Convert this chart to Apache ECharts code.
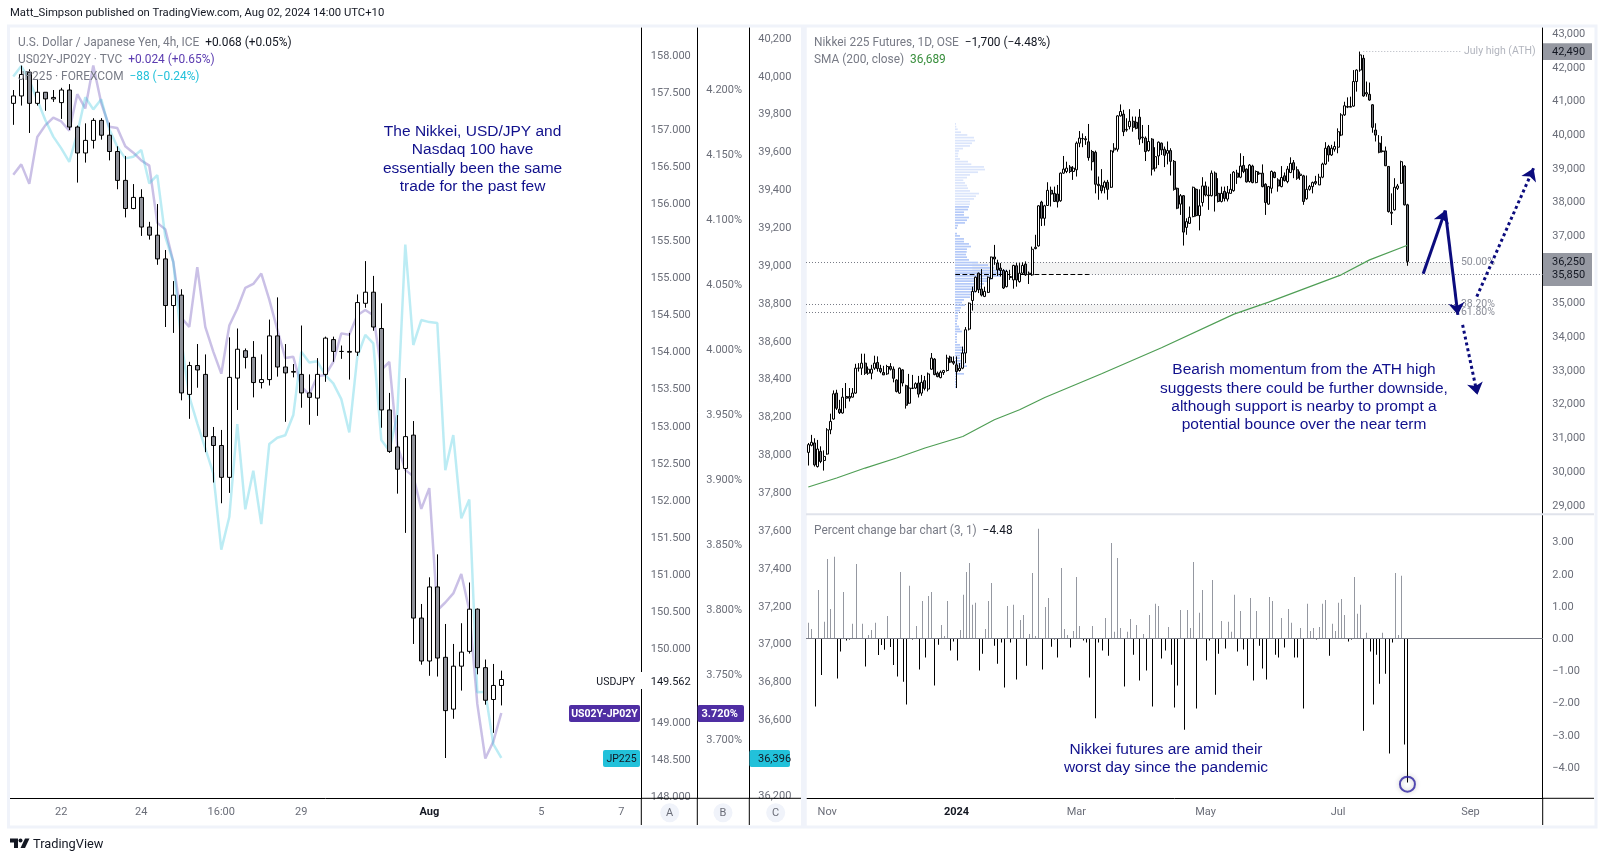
<!DOCTYPE html>
<html>
<head>
<meta charset="utf-8">
<title>USD/JPY and Nikkei 225</title>
<script src="https://cdn.jsdelivr.net/npm/echarts@6/dist/echarts.min.js"></script>
<style>
html,body{margin:0;padding:0;background:#fff;}
#chart{width:1604px;height:861px;}
</style>
</head>
<body>
<div id="chart"></div>
<script>
// USD/JPY 4h candles
var usdOpen=[157.34,157.44,157.76,157.34,157.49,157.40,157.35,157.52,157.02,156.67,
156.84,157.11,156.91,156.69,156.30,155.92,156.07,155.67,155.56,155.24,
154.61,154.75,153.41,153.80,153.68,152.84,152.72,152.29,153.63,154.00,
153.91,153.57,153.61,154.20,153.78,153.71,153.68,153.43,153.36,153.68,
154.15,153.99,153.99,153.98,154.64,154.79,154.30,153.20,152.70,152.41,
152.86,150.39,149.81,150.81,149.86,149.16,149.74,149.94,150.51,149.72,
149.29,149.48];
var usdClose=[157.44,157.73,157.34,157.49,157.40,157.42,157.52,157.02,156.67,156.84,
157.11,156.91,156.69,156.30,155.92,156.07,155.67,155.56,155.24,154.61,
154.75,153.43,153.80,153.74,152.84,152.72,152.29,153.64,154.02,153.91,
153.57,153.61,154.20,153.78,153.70,153.72,153.43,153.37,153.68,154.17,
153.99,153.99,153.98,154.65,154.79,154.32,153.20,152.64,152.40,152.84,
150.39,149.81,150.81,149.85,149.14,149.74,149.93,150.51,149.72,149.28,
149.48,149.56];
var usdLow=[157.05,157.31,156.94,157.31,157.24,157.36,157.13,156.98,156.27,156.54,
156.73,156.85,156.57,156.18,155.80,155.91,155.55,155.50,155.16,154.32,
154.24,153.33,153.08,153.50,152.63,152.22,151.94,152.08,153.20,153.76,
153.37,153.49,153.53,153.65,153.04,153.64,153.23,153.00,153.12,153.58,
153.85,153.89,153.61,153.93,154.58,154.27,152.96,152.62,152.07,151.54,
150.04,149.76,149.61,149.60,148.50,149.03,149.41,149.91,149.63,149.22,
148.84,149.21];
var usdHigh=[157.52,157.85,157.80,157.67,157.49,157.52,157.55,157.60,157.04,157.07,
157.14,157.14,157.08,156.76,156.63,156.25,156.18,155.74,155.98,155.36,
154.94,154.83,153.85,154.09,153.95,152.97,152.93,154.18,154.30,154.03,
154.13,153.95,154.42,154.72,154.09,153.82,154.34,153.68,153.90,154.19,
154.19,154.07,154.24,154.76,155.21,155.01,154.64,153.43,153.13,153.63,
153.05,150.58,150.94,151.25,150.31,150.04,150.32,150.87,150.52,149.83,
149.77,149.68];
// overlays on the USD/JPY pane
var spreadValues=[4.134,4.142,4.127,4.163,4.172,4.178,4.175,4.168,4.196,4.185,
4.218,4.189,4.171,4.170,4.156,4.151,4.145,4.141,4.097,4.092,
4.067,4.024,4.017,4.063,4.017,3.998,3.981,4.018,4.031,4.047,
4.050,4.058,4.038,4.015,3.993,3.994,3.971,3.965,3.979,3.980,
3.990,4.012,4.011,4.026,4.030,4.026,3.984,3.990,3.926,3.907,
3.902,3.877,3.893,3.799,3.805,3.812,3.827,3.799,3.727,3.685,
3.698,3.720];
var jp225Values=[39996,40052,39978,39872,39767,39679,39617,39546,39696,39887,
39823,39876,39718,39626,39564,39573,39608,39432,39476,39150,
39016,38604,38305,38164,38032,37900,37497,37669,38160,37710,
37914,37632,38055,38088,38101,38208,38542,38486,38492,38419,
38375,38292,38116,38516,38631,38587,38076,38019,38208,39109,
38578,38710,38699,38694,37917,38102,37662,37762,36743,36746,
36469,36396];
// tick labels, USD/JPY pane
var usdXIdx=[6,16,26,36,52,66,76];
var usdXText=['22','24','16:00','29','{b|Aug}','5','7'];
var usdTicks=[148,148.5,149,150,150.5,151,151.5,152,152.5,153,153.5,154,154.5,155,155.5,156,156.5,157,157.5,158];
var spreadTicks=[3.7,3.75,3.8,3.85,3.9,3.95,4,4.05,4.1,4.15,4.2];
var jp225Ticks=[36200,36600,36800,37000,37200,37400,37600,37800,38000,38200,38400,38600,38800,39000,39200,39400,39600,39800,40000,40200];

// Nikkei 225 daily candles
var nkOpen=[30540,30750,30820,30120,30570,30300,30490,31210,31530,32300,
31820,31710,32200,32200,32180,32300,33040,33040,33190,32890,
32890,33040,33210,33030,32910,32870,33090,33010,32690,32300,
32990,32520,32000,32450,32450,32600,32300,32670,32420,33010,
33310,32890,32760,32910,32970,33370,33240,33140,32970,33040,
33490,34200,35050,35320,35860,35390,35170,35290,35700,36340,
36160,36010,35940,35460,35760,35660,36080,35610,35860,36130,
35830,35810,36590,36670,37970,37490,37870,38320,38230,38210,
38010,38830,38880,39010,38880,38930,39720,39850,39850,39760,
39470,39450,38500,38460,38410,38560,38410,39520,39540,40530,
40580,40110,40210,40370,40340,40490,39880,39870,39500,39840,
38980,39340,39720,39540,39420,39500,39180,38380,37910,38160,
37220,37340,37540,38350,37570,37960,38450,38180,38160,38830,
38230,37990,38290,38060,38230,38310,38830,38710,39060,38950,
38580,39040,38550,38810,38830,38500,37910,38380,38850,38630,
38430,38750,38580,38850,39140,38930,38760,38750,38070,38350,
38430,38580,38480,38710,39100,39620,39370,39540,39600,39960,
40560,40810,40810,40820,41550,41890,42240,41180,41170,40860,
40110,39720,39470,39490,39030,37670,37740,38380,38530,39040,
37890];
var nkClose=[30770,30840,30170,30640,30270,30420,31210,31460,32280,31850,
31720,32180,32150,32150,32300,33040,33040,33190,32890,33010,
33010,33190,33030,32940,32840,33090,33010,32740,32350,33040,
32600,31940,32450,32440,32580,32270,32620,32440,32870,33340,
32850,32790,32920,32970,33340,33220,33190,32940,33040,33490,
34180,34970,35320,35740,35370,35210,35320,35740,36340,36280,
35960,35940,35420,35910,35730,36090,35660,35860,36090,35810,
35860,36570,36630,37860,37490,37860,38320,38210,37990,37980,
38830,38950,38980,38880,38980,39720,39870,39860,39820,39290,
39170,38500,38460,38310,38560,38350,39490,39570,40530,40660,
40060,40130,40370,40190,40160,39840,39900,39470,39770,38950,
39320,39750,39520,39360,39500,39180,38350,37790,38160,37080,
37390,37520,38410,37570,37860,38450,38180,38160,38830,38160,
37990,38230,38080,38250,38350,38860,38710,39040,38880,38570,
39070,38550,38880,38830,38430,37960,38430,38880,38700,38450,
38700,38610,38950,39120,38930,38680,38800,37990,38350,38430,
38550,38530,38710,39100,39570,39370,39570,39620,40060,40560,
40830,40790,40790,41550,41890,42340,41120,41220,41000,40190,
39960,39450,39490,39050,37690,37640,38410,38450,39170,37890,
36210];
var nkLow=[30150,30720,30120,30090,30220,30000,30470,31080,31510,31800,
31680,31690,31850,32050,32170,32280,32940,32840,32840,32840,
32710,32990,32940,32890,32840,32840,32970,32620,32320,32280,
32500,31840,31980,32420,32420,32170,32220,32380,32350,32990,
32830,32770,32740,32840,32940,33190,33140,32450,32940,33010,
33190,34160,34750,35290,35270,35170,35150,35270,35680,36110,
35780,35760,35390,35440,35660,35400,35460,35580,35810,35780,
35540,35780,36570,36650,37260,37270,37860,37840,37980,37810,
37980,38810,38830,38830,38630,38730,39600,39600,39670,39200,
38910,38230,38040,38230,38230,38040,38390,39440,39470,40510,
39930,40060,40130,40060,40130,39670,39720,39190,39470,38760,
38880,39070,39370,39010,39090,38760,38310,37760,37590,36680,
37000,37320,37520,37540,37130,37840,38140,37740,38140,37690,
37960,37960,37990,37990,38230,38280,38510,38680,38830,38550,
38550,38530,38530,38780,38410,37590,37890,38230,38680,38280,
38410,38580,38530,38830,38680,38630,38630,37890,38040,38310,
38230,38480,38480,38680,39070,39170,39340,39470,39420,39930,
40530,40760,40790,40800,41250,41840,41100,41100,40980,40030,
39770,39420,39440,39040,37660,37290,37720,38330,38510,37870,
36080];
var nkHigh=[30820,31060,30960,30910,30720,30600,31260,31690,32380,32400,
32100,32450,32600,32450,32450,33170,33190,33470,33470,33090,
33140,33410,33390,33140,33110,33140,33190,33090,32710,33060,
33010,32550,32870,32840,32620,32810,32840,32810,32910,33490,
33340,32940,32970,32990,33440,33410,33390,33390,33190,33680,
34260,34990,35460,35760,35880,35980,35460,35760,36350,36700,
36260,36160,35980,35960,35960,36110,36160,36160,36180,36210,
35910,36650,37000,37880,38010,37890,38560,38430,38430,38480,
38850,39340,39170,39070,39040,39770,40080,40010,39930,40290,
39520,39500,38730,38950,38610,38630,39520,39720,40550,40870,
40710,40460,40730,40510,40510,40730,40260,39920,40260,39870,
39600,39770,39740,39620,39770,39570,39220,38400,38210,38180,
37490,37840,38430,38380,38350,38710,38580,38430,38910,38880,
38680,38430,38430,38450,38810,38890,38930,39420,39340,38970,
39100,39080,38910,38880,39090,38530,38450,38910,38880,38680,
39040,38850,39040,39300,39220,39030,38880,38780,38760,38480,
38580,38750,38810,39140,39750,39670,39670,39770,40160,40610,
40950,41080,41100,41890,41910,42440,42340,41550,41520,40880,
40310,39960,39930,39620,39040,38230,38680,38510,39200,39070,
37920];
// percent change bars
var pctValues=[0.48,0.29,-2.12,1.50,-1.14,0.51,2.46,0.91,2.53,-1.25,
-0.41,1.44,-0.07,-0.04,0.45,2.31,0.00,0.45,-0.88,0.10,
0.26,0.48,-0.52,-0.21,-0.36,0.69,-0.27,-0.83,-1.19,2.06,
-1.35,-2.06,1.63,-0.04,0.38,-0.97,1.16,-0.60,1.31,1.44,
-1.47,-0.20,0.41,0.07,1.16,-0.38,-0.10,-0.69,0.26,1.35,
2.06,2.34,1.04,1.10,-1.00,-0.48,0.29,1.16,1.72,-0.23,
-0.79,-0.13,-1.53,1.00,-0.13,1.04,-1.28,0.57,0.72,-0.85,
0.13,2.03,0.07,3.40,-0.97,0.97,1.25,-0.26,-0.04,-0.60,
2.18,0.29,0.10,-0.29,0.23,1.90,0.38,-0.07,-0.13,-1.22,
0.38,-2.48,-0.13,-0.38,0.63,-0.54,2.96,0.20,2.49,0.32,
-1.50,0.20,0.60,-0.51,0.41,-1.31,0.13,-1.00,0.72,-2.12,
1.07,1.00,-0.63,-0.38,0.35,-0.82,-2.15,-1.47,0.88,-2.84,
0.88,0.32,2.37,-2.18,0.79,1.50,-0.69,-0.07,1.81,-1.75,
-0.48,0.54,-0.32,0.51,0.20,1.35,-0.41,0.85,-0.35,-0.85,
1.25,-1.31,0.85,-0.23,-0.94,-1.28,1.28,1.16,-0.51,-0.60,
0.63,-0.29,0.91,0.48,-0.60,-0.60,0.32,-2.18,1.07,0.23,
0.32,-0.04,0.35,1.07,1.19,-0.54,0.45,0.23,1.10,1.22,
0.72,-0.10,-0.04,1.90,0.76,1.04,-2.87,0.17,-0.41,-2.06,
-0.51,-1.41,0.17,-1.10,-3.58,-0.13,2.03,0.10,1.94,-3.30,
-4.48];
// SMA 200, knots
var smaIdx=[0,9,18,28,37,49,59,67,75,93,112,135,146,169,178,190];
var smaValues=[29512,29779,30075,30372,30669,31013,31509,31805,32170,32873,33645,34645,35000,35811,36256,36689];
// volume profile rows
var profilePrices=[40291,40212,40133,40044,39964,39885,39796,39717,39638,39559,
39490,39411,39331,39252,39173,39094,39015,38936,38857,38778,
38698,38619,38540,38461,38382,38303,38224,38145,38065,37986,
37907,37828,37749,37670,37591,37512,37432,37353,37274,37195,
37037,36967,36878,36799,36730,36651,36572,36493,36414,36335,
36255,36176,36097,36018,35939,35860,35781,35701,35622,35543,
35464,35385,35306,35227,35148,35068,34989,34910,34831,34752,
34673,34594,34515,34435,34356,34277,34198,34129,34050,33970,
33891,33812,33733,33654,33575,33496,33417,33338,33258,33179,
33100,33021,32942,32873,32793,32714,32635,32556,32477];
var profileVolumes=[1,1.3,2.7,6,12.3,19,20,17,15,8,
4,3.3,3,5,13,16.3,29,30,23,15,
12,8.3,10,12,13,15,24,21,19,15,
15,14,13,9,9,14,12,10,3,2,
2,5,9,9,14,16,12,11.7,11,12,
14,23,33,39,52,49,45,38,34,29,
27,22,20,16,15,9,7,10,6,5,
3,3,3,2,2,4,5,7,2,2,
2,2,5,8,9,10,5,5,8,10,
12,6,3,9,2,2,2,2,1];
var valueAreaHigh=37880;
// tick labels, Nikkei panes
var nkXIdx=[6,47,85,126,168,210];
var nkXText=['Nov','{b|2024}','Mar','May','Jul','Sep'];
var nkTicks=[29000,30000,31000,32000,33000,34000,35000,37000,38000,39000,40000,41000,42000,43000];
var pctTicks=[-4,-3,-2,-1,0,1,2,3];
// levels and hand drawn arrows
var julyHigh=42437;
var fibHalf=36186;
var swingLevel=35830;
var fib382=34930;
var fib618=34702;
var solidArrows=[[[195,35840],[202,37719]],[[202,37719],[206,34623]]];
var dottedArrows=[[[212,35167],[230,38975]],[[207.5,34327],[212.2,32249]]];
var lastPctMark=[[190,-4.53]];

var GREY='#6a6d78';
var TV_FONT='Roboto, sans-serif';
var NOTE='#10108c';
var LEGEND_SIZE=11.9;

function zip(){
	var args=arguments;
	return args[0].map(function(v,i){
		return Array.prototype.map.call(args,function(a){return a[i];});
	});
}
function withIndex(arr){
	return arr.map(function(v,i){return [i,v];});
}
function candles(o,c,l,h){
	return o.map(function(v,i){return [i,v,c[i],l[i],h[i]];});
}
function lookup(idx,text){
	return function(v){
		var p=idx.indexOf(v);
		return p==-1?'':text[p];
	};
}
// padTop nudges the label down a little from its tick, the way the reference sits
function yAxis(grid,off,min,max,ticks,fmt,margin,padTop){
	return {
		type:'value',gridIndex:grid,position:'right',offset:off,min:min,max:max,
		axisLine:{show:true,onZero:false,lineStyle:{color:'#000',width:1}},
		axisTick:{show:false},splitLine:{show:false},
		axisLabel:{show:true,customValues:ticks,margin:margin,hideOverlap:false,showMinLabel:true,showMaxLabel:true,
			formatter:function(v){return '{a|'+fmt(v)+'}';},
			rich:{a:{color:GREY,fontSize:11,fontFamily:TV_FONT,padding:[padTop,0,0,0]}}}
	};
}
function txt(x,y,text,size,color,extra){
	var style={x:x,y:y,text:text,fontSize:size,fill:color,fontFamily:TV_FONT,verticalAlign:'middle',align:'left'};
	for(var k in (extra||{})){style[k]=extra[k];}
	return {type:'text',z:100,silent:true,style:style};
}
function note(x,y,text){
	return txt(x,y,text,15.5,NOTE,{align:'center',fontFamily:'"Liberation Sans", Arial, sans-serif'});
}
function rect(x,y,w,h,fill,r){
	return {type:'rect',z:90,silent:true,shape:{x:x,y:y,width:w,height:h,r:r||0},style:{fill:fill}};
}
function seg(x1,y1,x2,y2,color,w){
	return {type:'line',z:80,silent:true,shape:{x1:x1,y1:y1,x2:x2,y2:y2},style:{stroke:color,lineWidth:w||1}};
}
function badge(x,text){
	return [
		{type:'circle',z:90,silent:true,shape:{cx:x,cy:812.7,r:9.5},style:{fill:'#f0f3fa'}},
		txt(x,813,text,11,GREY,{align:'center'})
	];
}
function legendRich(){
	return {
		g:{fill:'#787b86',fontSize:LEGEND_SIZE,fontFamily:TV_FONT},
		k:{fill:'#131722',fontSize:LEGEND_SIZE,fontFamily:TV_FONT},
		p:{fill:'#5b3cb0',fontSize:LEGEND_SIZE,fontFamily:TV_FONT},
		c:{fill:'#22c1da',fontSize:LEGEND_SIZE,fontFamily:TV_FONT},
		s:{fill:'#388e3c',fontSize:LEGEND_SIZE,fontFamily:TV_FONT}
	};
}
function legend(x,y,text){
	return {type:'text',z:100,silent:true,style:{x:x,y:y,text:text,rich:legendRich(),verticalAlign:'middle',fontFamily:TV_FONT,fontSize:LEGEND_SIZE}};
}
function level(x0,x1,value,color,type,width,label){
	var line=[{coord:[x0,value],lineStyle:{color:color,type:type,width:width||1}},{coord:[x1,value]}];
	if(label){
		line[0].label={show:true,formatter:label,position:'end',color:color=='#787b86'?'#8b8e98':'#b2b5be',fontSize:10.5,fontFamily:TV_FONT,distance:3};
	}
	return line;
}

var graphics=[
	// panel frames
	{type:'rect',z:1,silent:true,shape:{x:8.5,y:26,width:794,height:801},style:{fill:'none',stroke:'#f0f3fa',lineWidth:3}},
	{type:'rect',z:1,silent:true,shape:{x:805.2,y:26,width:790.8,height:801},style:{fill:'none',stroke:'#f0f3fa',lineWidth:3}},
	// axis stubs under and beside the grids
	seg(641.3,798.3,641.3,825,'#000'),seg(697.3,798.3,697.3,825,'#000'),seg(749.3,798.3,749.3,825,'#000'),
	seg(641.3,798.3,801,798.3,'#000'),
	seg(1542.7,798.3,1542.7,825,'#000'),seg(1542.7,798.3,1594,798.3,'#000'),
	seg(806,514.3,1594,514.3,'#e0e3eb',2),
	// header and footer
	txt(10,13,'Matt_Simpson published on TradingView.com, Aug 02, 2024 14:00 UTC+10',11.3,'#131722'),
	{type:'polygon',z:90,silent:true,shape:{points:[[10,838.5],[18,838.5],[18,848],[14,848],[14,842.5],[10,842.5]]},style:{fill:'#131722'}},
	{type:'circle',z:90,silent:true,shape:{cx:20.5,cy:840.5,r:2},style:{fill:'#131722'}},
	{type:'polygon',z:90,silent:true,shape:{points:[[25,838.5],[29.5,838.5],[25,848],[20.5,848]]},style:{fill:'#131722'}},
	txt(33,845,'TradingView',12.8,'#131722'),
	// left legend
	legend(18,42.7,'{g|U.S. Dollar / Japanese Yen, 4h, ICE}  {k|+0.068 (+0.05%)}'),
	legend(18,60,'{g|US02Y-JP02Y · TVC}  {p|+0.024 (+0.65%)}'),
	legend(18,77,'{g|JP225 · FOREXCOM}  {c|−88 (−0.24%)}'),
	// right legend
	legend(814,43,'{g|Nikkei 225 Futures, 1D, OSE}  {k|−1,700 (−4.48%)}'),
	legend(814,60.5,'{g|SMA (200, close)}  {s|36,689}'),
	legend(814,531,'{g|Percent change bar chart (3, 1)}  {k|−4.48}'),
	// notes
	note(472.6,132,'The Nikkei, USD/JPY and'),note(472.6,150,'Nasdaq 100 have'),note(472.6,169,'essentially been the same'),note(472.6,187,'trade for the past few'),
	note(1304,370,'Bearish momentum from the ATH high'),note(1304,388.7,'suggests there could be further downside,'),note(1304,407,'although support is nearby to prompt a'),note(1304,424.5,'potential bounce over the near term'),
	note(1166,750,'Nikkei futures are amid their'),note(1166,768,'worst day since the pandemic'),
	// price tags, left pane
	rect(590,672,60,17,'#fff'),
	txt(635,682,'USDJPY',10.5,'#131722',{align:'right'}),
	txt(650.7,682,'149.562',11,'#131722'),
	rect(569,705,71,17,'#4f2ea3',2),
	txt(604.5,714.5,'US02Y-JP02Y',10.5,'#fff',{align:'center',fontWeight:'bold'}),
	rect(697.5,705,46.5,17,'#4f2ea3',2),
	txt(738,714.5,'3.720%',11,'#fff',{align:'right',fontWeight:'bold'}),
	rect(603,750,37,17,'#22c1da',2),
	txt(621.5,759.5,'JP225',10.5,'#131722',{align:'center'}),
	rect(749.5,750,40.5,17,'#22c1da',2),
	txt(758,759.5,'36,396',11,'#131722'),
	// price tags, right pane
	rect(1543,43.3,49,16.7,'#9598a1'),
	txt(1552,52,'42,490',11,'#131722'),
	rect(1543,253,49,33,'#9598a1'),
	txt(1552,262.3,'36,250',11,'#131722'),
	txt(1552,275.7,'35,850',11,'#131722')
].concat(badge(669.7,'A'),badge(723,'B'),badge(775.7,'C'));

var chart=echarts.init(document.getElementById('chart'),null,{renderer:'canvas'});
var option={
	animation:false,
	backgroundColor:'#fff',
	grid:[
		{left:10,top:27.6,width:631.3,height:770.7},
		{left:806,top:27.6,width:736.7,height:486.4},
		{left:806,top:514,width:736.7,height:284.3}
	],
	xAxis:[
		{type:'value',gridIndex:0,min:-0.41,max:78.5,splitLine:{show:false},axisTick:{show:false},
			axisLine:{show:true,onZero:false,lineStyle:{color:'#000'}},
			axisLabel:{customValues:usdXIdx,formatter:lookup(usdXIdx,usdXText),color:GREY,fontSize:11,fontFamily:TV_FONT,margin:8,rich:{b:{fontWeight:'bold',color:'#131722',fontSize:11,fontFamily:TV_FONT}}}},
		{type:'value',gridIndex:1,min:-0.73,max:232.9,show:false},
		{type:'value',gridIndex:2,min:-0.73,max:232.9,splitLine:{show:false},axisTick:{show:false},
			axisLine:{show:true,onZero:false,lineStyle:{color:'#000'}},
			axisLabel:{customValues:nkXIdx,formatter:lookup(nkXIdx,nkXText),color:GREY,fontSize:11,fontFamily:TV_FONT,margin:8,rich:{b:{fontWeight:'bold',color:'#131722',fontSize:11,fontFamily:TV_FONT}}}},
		// hidden scale for the volume profile, profile starts at 0
		{type:'value',gridIndex:1,min:-149,max:587.7,show:false}
	],
	yAxis:[
		yAxis(0,0,147.956,158.363,usdTicks,function(v){return v.toFixed(3);},9.5,4),
		yAxis(0,56,3.6544,4.2472,spreadTicks,function(v){return v.toFixed(3)+'%';},9,3),
		yAxis(0,108,36183,40255,jp225Ticks,function(v){return echarts.format.addCommas(v);},9,2),
		yAxis(1,0,28711,43151,nkTicks,function(v){return echarts.format.addCommas(v);},9.5,3),
		yAxis(2,0,-4.97,3.86,pctTicks,function(v){return v.toFixed(2).replace('-','−');},9.5,2)
	],
	graphic:{elements:graphics},
	series:[
		{name:'US02Y-JP02Y',type:'line',xAxisIndex:0,yAxisIndex:1,z:1,data:withIndex(spreadValues),showSymbol:false,lineStyle:{color:'#5b3cb0',width:2.5,opacity:0.32}},
		{name:'JP225',type:'line',xAxisIndex:0,yAxisIndex:2,z:1,data:withIndex(jp225Values),showSymbol:false,lineStyle:{color:'#22c1da',width:2.5,opacity:0.3}},
		{name:'USDJPY',type:'candlestick',xAxisIndex:0,yAxisIndex:0,z:3,barWidth:5,data:candles(usdOpen,usdClose,usdLow,usdHigh),
			itemStyle:{color:'#fff',color0:'#8f9199',borderColor:'#000',borderColor0:'#000',borderWidth:1}},
		// shaded zones and level lines, behind the candles
		{name:'levels',type:'line',xAxisIndex:1,yAxisIndex:3,z:1,data:[],
			markArea:{silent:true,z:1,itemStyle:{color:'#f3f3f3'},label:{show:false},data:[
				[{coord:[52,fibHalf]},{coord:[204,swingLevel]}],
				[{coord:[52,fib382]},{coord:[206,fib618]}]
			]},
			markLine:{silent:true,symbol:'none',z:1,label:{show:false},data:[
				level(176,207,julyHigh,'#b2b5be',[1,2],1,'July high (ATH)'),
				level(-0.73,206,fibHalf,'#787b86',[1,2],1,'50.00%'),
				level(89,232.9,swingLevel,'#787b86',[1,2],1),
				level(-0.73,206,fib382,'#787b86',[1,2],1,'38.20%'),
				level(-0.73,206,fib618,'#787b86',[1,2],1,'61.80%'),
				level(46.6,89,swingLevel,'#000','dashed',1.2)
			]}},
		{name:'Volume profile',type:'custom',xAxisIndex:3,yAxisIndex:3,z:2,data:zip(profileVolumes,profilePrices),
			renderItem:function(params,api){
				var a=api.coord([0,api.value(1)]);
				var b=api.coord([api.value(0),api.value(1)]);
				return {type:'rect',shape:{x:a[0],y:a[1]-0.85,width:b[0]-a[0],height:1.7},
					style:{fill:api.value(1)>valueAreaHigh?'#dbe5fb':'#b4c9f8'}};
			}},
		{name:'Nikkei',type:'candlestick',xAxisIndex:1,yAxisIndex:3,z:3,barWidth:2.5,data:candles(nkOpen,nkClose,nkLow,nkHigh),
			itemStyle:{color:'#fff',color0:'#6f7178',borderColor:'#000',borderColor0:'#000',borderWidth:1}},
		{name:'SMA',type:'line',xAxisIndex:1,yAxisIndex:3,z:4,data:zip(smaIdx,smaValues),showSymbol:false,lineStyle:{color:'#4f9e55',width:1.2}},
		{name:'arrows',type:'lines',coordinateSystem:'cartesian2d',xAxisIndex:1,yAxisIndex:3,z:5,symbol:['none','arrow'],symbolSize:12,
			lineStyle:{color:'#0b0b7d',width:3,curveness:0,opacity:1},
			data:solidArrows.map(function(c){return {coords:c};})},
		{name:'dotted arrows',type:'lines',coordinateSystem:'cartesian2d',xAxisIndex:1,yAxisIndex:3,z:5,symbol:['none','arrow'],symbolSize:12,
			lineStyle:{color:'#0b0b7d',width:3,type:[3,3],curveness:0,opacity:1},
			data:dottedArrows.map(function(c){return {coords:c};})},
		// drawn through a custom series so each bar lands on a whole pixel
		{name:'Percent change',type:'custom',xAxisIndex:2,yAxisIndex:4,z:2,data:withIndex(pctValues),
			renderItem:function(params,api){
				var a=api.coord([api.value(0),0]);
				var b=api.coord([api.value(0),api.value(1)]);
				return {type:'rect',shape:{x:Math.round(a[0]),y:Math.min(a[1],b[1]),width:1,height:Math.abs(b[1]-a[1])},
					style:{fill:api.value(1)>=0?'#9598a1':'#000'}};
			},
			markLine:{silent:true,symbol:'none',label:{show:false},lineStyle:{color:'#787b86',type:'solid',width:1},data:[{yAxis:0}]}},
		{name:'circle',type:'scatter',xAxisIndex:2,yAxisIndex:4,z:6,symbol:'circle',symbolSize:15,data:lastPctMark,
			itemStyle:{color:'rgba(255,255,255,0)',borderColor:'#2a1fa0',borderWidth:2,shadowBlur:5,shadowColor:'rgba(0,0,0,0.3)'}}
	]
};
chart.setOption(option);
</script>
</body>
</html>
